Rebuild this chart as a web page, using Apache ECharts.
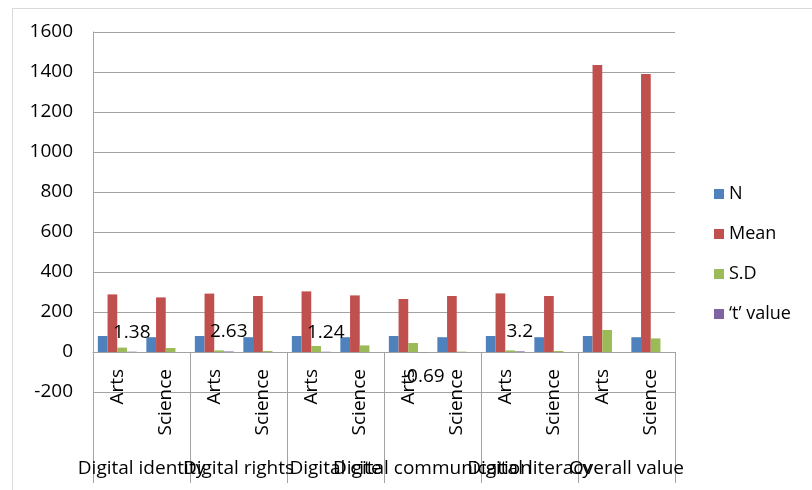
<!DOCTYPE html>
<html>
<head>
<meta charset="utf-8">
<script src="https://cdn.jsdelivr.net/npm/echarts@6/dist/echarts.min.js"></script>
<style>
  html, body { margin: 0; padding: 0; background: #fff; }
  #chart { width: 812px; height: 490px; }
</style>
</head>
<body>
<div id="chart"></div>
<script>
// Sub-categories (stream) and their dimension groups
const streams = ['Arts', 'Science', 'Arts', 'Science', 'Arts', 'Science',
                 'Arts', 'Science', 'Arts', 'Science', 'Arts', 'Science'];
const dimensions = ['Digital identity', 'Digital rights', 'Digital cite',
                    'Digital communication', 'Digital literacy', 'Overall value'];

// Series values, one per stream column
const nValues    = [80, 74, 80, 74, 80, 74, 80, 74, 80, 74, 80, 74];
const meanValues = [288, 273, 292, 280, 303, 283, 265, 280, 293, 280, 1435, 1390];
const sdValues   = [22, 20, 8, 5, 30, 33, 45, 2, 8, 5, 110, 68];
const tValues    = [1.38, null, 2.63, null, 1.24, null, -0.69, null, 3.2, null, null, null];

// Value axis ticks
const yMin = -200, yMax = 1600, yStep = 200;

const FONT = 'Open Sans';
const GRID_GREY = '#a3a3a3';
// distance in px from the grid bottom (yMin) up to the zero line
const ZERO_OFFSET = 40;

const chart = echarts.init(document.getElementById('chart'), null, { renderer: 'canvas' });

const tData = tValues.map(v => v === null ? null : {
  value: v,
  label: { position: v < 0 ? 'bottom' : 'top', distance: v < 0 ? 15 : 10 }
});

chart.setOption({
  backgroundColor: '#ffffff',
  animation: false,
  textStyle: { fontFamily: FONT, color: '#000' },
  grid: { left: 93, right: 137, top: 32, bottom: 98 },
  legend: {
    orient: 'vertical',
    left: 709,
    top: 179,
    itemWidth: 10,
    itemHeight: 10,
    itemGap: 20,
    icon: 'rect',
    textStyle: { fontFamily: FONT, fontSize: 18, color: '#000', lineHeight: 20 },
    data: ['N', 'Mean', 'S.D', '\u2018t\u2019 value']
  },
  xAxis: [
    {
      type: 'category',
      data: streams,
      position: 'bottom',
      offset: -ZERO_OFFSET,
      axisLine: { show: true, onZero: false, lineStyle: { color: GRID_GREY, width: 1 } },
      axisTick: { show: false },
      axisLabel: { rotate: 90, interval: 0, margin: 17, fontFamily: FONT, fontSize: 19, color: '#000' }
    },
    {
      type: 'category',
      data: dimensions,
      position: 'bottom',
      offset: -ZERO_OFFSET,
      axisLine: { show: false, onZero: false },
      axisTick: { show: true, interval: 0, length: 131, lineStyle: { color: GRID_GREY, width: 1 } },
      axisLabel: { interval: 0, margin: 107, fontFamily: FONT, fontSize: 19, color: '#000' }
    }
  ],
  yAxis: {
    type: 'value',
    min: yMin,
    max: yMax,
    interval: yStep,
    axisLine: { show: true, lineStyle: { color: GRID_GREY, width: 1 } },
    axisTick: { show: false },
    splitLine: { lineStyle: { color: GRID_GREY, width: 1 } },
    axisLabel: { margin: 20, fontFamily: FONT, fontSize: 19, color: '#000',
                 formatter: v => String(v) }
  },
  series: [
    { name: 'N', type: 'bar', data: nValues, itemStyle: { color: '#4f81bd' },
      barGap: '0%', barCategoryGap: '20%' },
    { name: 'Mean', type: 'bar', data: meanValues, itemStyle: { color: '#c0504d' },
      barGap: '0%', barCategoryGap: '20%' },
    { name: 'S.D', type: 'bar', data: sdValues, itemStyle: { color: '#9bbb59' },
      barGap: '0%', barCategoryGap: '20%' },
    { name: '\u2018t\u2019 value', type: 'bar', data: tData, itemStyle: { color: '#8064a2' },
      barGap: '0%', barCategoryGap: '20%',
      label: { show: true, fontFamily: FONT, fontSize: 19, color: '#000' } }
  ],
  graphic: [
    { type: 'line', shape: { x1: 12, y1: 8.5, x2: 812, y2: 8.5 },
      style: { stroke: '#d9d9d9', lineWidth: 1 }, silent: true },
    { type: 'line', shape: { x1: 12.5, y1: 8, x2: 12.5, y2: 490 },
      style: { stroke: '#d9d9d9', lineWidth: 1 }, silent: true }
  ]
});
</script>
</body>
</html>
